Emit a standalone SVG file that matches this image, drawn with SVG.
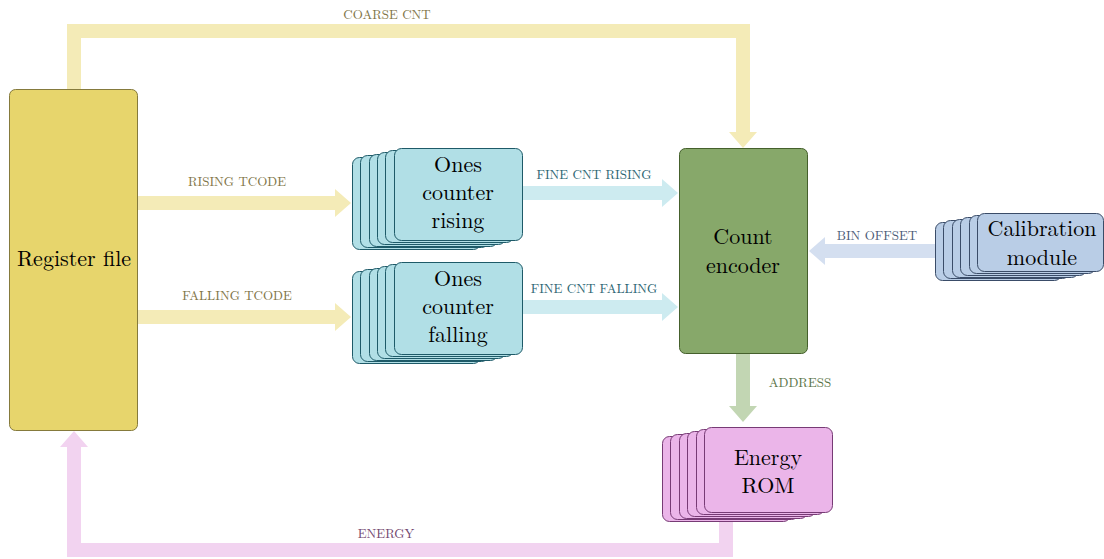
<svg xmlns="http://www.w3.org/2000/svg" xmlns:xlink="http://www.w3.org/1999/xlink" width="1104" height="559" viewBox="0 0 1104 559">
  <style>
    .lbl { font-size: 13px; text-anchor: middle; }
    .big { font-size: 22px; text-anchor: middle; fill: #000; }
    .wire { fill: none; stroke-width: 14; stroke-linejoin: miter; stroke-linecap: butt; }
    .yel { stroke: #f4ebb7; }
    .cyn { stroke: #cdebf0; }
    .blu { stroke: #d4dff0; }
    .grn { stroke: #c2d6b3; }
    .pnk { stroke: #f2d3f0; }
    .ones use { fill: #b1dfe6; stroke: #1e5a68; stroke-width: 1; }
    .cal use { fill: #b9cde6; stroke: #3a4c68; stroke-width: 1; }
    .rom use { fill: #ebb5e9; stroke: #773b75; stroke-width: 1; }
  </style>
  <defs>
    <marker id="hYel" markerUnits="userSpaceOnUse" markerWidth="18" markerHeight="30" refX="0" refY="15" orient="auto" viewBox="0 0 18 30"><path d="M0,1 L16,15 L0,29 Z" fill="#f4ebb7"/></marker>
    <marker id="hCyn" markerUnits="userSpaceOnUse" markerWidth="18" markerHeight="30" refX="0" refY="15" orient="auto" viewBox="0 0 18 30"><path d="M0,1 L16,15 L0,29 Z" fill="#cdebf0"/></marker>
    <marker id="hBlu" markerUnits="userSpaceOnUse" markerWidth="18" markerHeight="30" refX="0" refY="15" orient="auto" viewBox="0 0 18 30"><path d="M0,1 L16,15 L0,29 Z" fill="#d4dff0"/></marker>
    <marker id="hGrn" markerUnits="userSpaceOnUse" markerWidth="18" markerHeight="30" refX="0" refY="15" orient="auto" viewBox="0 0 18 30"><path d="M0,1 L16,15 L0,29 Z" fill="#c2d6b3"/></marker>
    <marker id="hPnk" markerUnits="userSpaceOnUse" markerWidth="18" markerHeight="30" refX="0" refY="15" orient="auto" viewBox="0 0 18 30"><path d="M0,1 L16,15 L0,29 Z" fill="#f2d3f0"/></marker>
    <!-- card shapes reused for the stacked (multi-instance) blocks -->
    <rect id="card128" width="128" height="92" rx="7"/>
    <rect id="cardRom" width="128" height="85" rx="7"/>
    <rect id="cardCal" width="126" height="58" rx="7"/>
  </defs>

  <g font-family="Latin Modern Roman, Liberation Serif, serif">
  <!-- connectors -->
  <g id="connectors">
    <path class="wire yel" d="M74,89 V31 H743 V132" marker-end="url(#hYel)"/>
    <path class="wire yel" d="M138,203 H335" marker-end="url(#hYel)"/>
    <path class="wire yel" d="M138,317 H335" marker-end="url(#hYel)"/>
    <path class="wire cyn" d="M522,193 H662" marker-end="url(#hCyn)"/>
    <path class="wire cyn" d="M522,307 H662" marker-end="url(#hCyn)"/>
    <path class="wire blu" d="M936,251 H825" marker-end="url(#hBlu)"/>
    <path class="wire grn" d="M743,354 V406" marker-end="url(#hGrn)"/>
    <path class="wire pnk" d="M726,512 V550 H74 V447" marker-end="url(#hPnk)"/>

    <text class="lbl" x="387" y="19" fill="#7f7548">COARSE CNT</text>
    <text class="lbl" x="237" y="186" fill="#7f7548">RISING TCODE</text>
    <text class="lbl" x="237" y="300" fill="#7f7548">FALLING TCODE</text>
    <text class="lbl" x="594" y="179" fill="#2b6572">FINE CNT RISING</text>
    <text class="lbl" x="594" y="293" fill="#2b6572">FINE CNT FALLING</text>
    <text class="lbl" x="877" y="240" fill="#4c5c78">BIN OFFSET</text>
    <text class="lbl" x="800" y="387" fill="#5b7548">ADDRESS</text>
    <text class="lbl" x="386" y="538" fill="#73486f">ENERGY</text>
  </g>

  <!-- register file -->
  <g id="register-file">
    <rect x="9.5" y="89.5" width="128" height="341" rx="6" fill="#e7d56c" stroke="#857a3c" stroke-width="1"/>
    <text class="big" x="74" y="266">Register file</text>
  </g>

  <!-- ones counter, rising edge -->
  <g id="ones-counter-rising" class="ones">
    <use xlink:href="#card128" x="352.5" y="157.5"/>
    <use xlink:href="#card128" x="360.5" y="155.5"/>
    <use xlink:href="#card128" x="369.5" y="154.5"/>
    <use xlink:href="#card128" x="377.5" y="152.5"/>
    <use xlink:href="#card128" x="385.5" y="150.5"/>
    <use xlink:href="#card128" x="394.5" y="148.5"/>
    <text class="big" x="458" y="172">Ones</text>
    <text class="big" x="458" y="200">counter</text>
    <text class="big" x="458" y="228">rising</text>
  </g>

  <!-- ones counter, falling edge -->
  <g id="ones-counter-falling" class="ones">
    <use xlink:href="#card128" x="352.5" y="271.5"/>
    <use xlink:href="#card128" x="360.5" y="269.5"/>
    <use xlink:href="#card128" x="369.5" y="268.5"/>
    <use xlink:href="#card128" x="377.5" y="266.5"/>
    <use xlink:href="#card128" x="385.5" y="264.5"/>
    <use xlink:href="#card128" x="394.5" y="262.5"/>
    <text class="big" x="458" y="286">Ones</text>
    <text class="big" x="458" y="314">counter</text>
    <text class="big" x="458" y="342">falling</text>
  </g>

  <!-- count encoder -->
  <g id="count-encoder">
    <rect x="679.5" y="148.5" width="128" height="205" rx="6" fill="#87a86a" stroke="#45602c" stroke-width="1"/>
    <text class="big" x="743" y="244">Count</text>
    <text class="big" x="743" y="273">encoder</text>
  </g>

  <!-- calibration module -->
  <g id="calibration-module" class="cal">
    <use xlink:href="#cardCal" x="935.5" y="222.5"/>
    <use xlink:href="#cardCal" x="943.5" y="220.5"/>
    <use xlink:href="#cardCal" x="952.5" y="219.5"/>
    <use xlink:href="#cardCal" x="960.5" y="217.5"/>
    <use xlink:href="#cardCal" x="969.5" y="215.5"/>
    <use xlink:href="#cardCal" x="977.5" y="213.5"/>
    <text class="big" x="1042" y="236">Calibration</text>
    <text class="big" x="1042" y="265">module</text>
  </g>

  <!-- energy ROM -->
  <g id="energy-rom" class="rom">
    <use xlink:href="#cardRom" x="662.5" y="436.5"/>
    <use xlink:href="#cardRom" x="670.5" y="434.5"/>
    <use xlink:href="#cardRom" x="679.5" y="433.5"/>
    <use xlink:href="#cardRom" x="687.5" y="431.5"/>
    <use xlink:href="#cardRom" x="696.5" y="429.5"/>
    <use xlink:href="#cardRom" x="704.5" y="427.5"/>
    <text class="big" x="768" y="465">Energy</text>
    <text class="big" x="768" y="493">ROM</text>
  </g>
  </g>
</svg>
